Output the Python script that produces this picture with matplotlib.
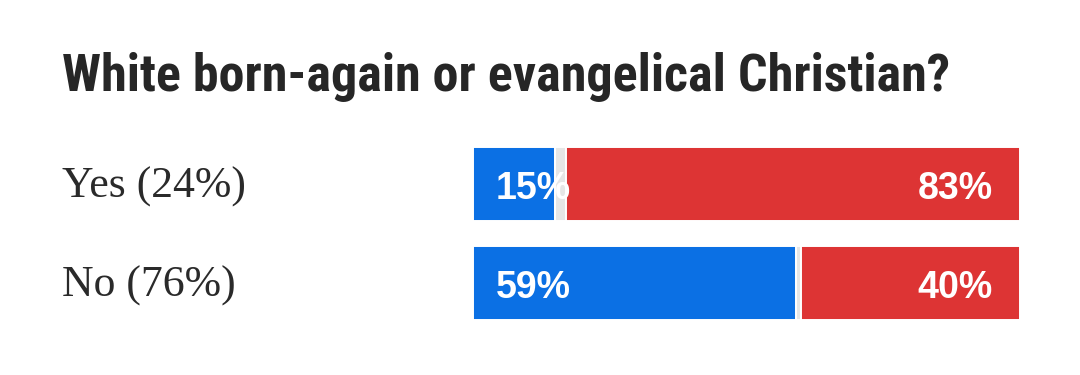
import matplotlib
matplotlib.use("Agg")
import matplotlib.pyplot as plt
from matplotlib.transforms import offset_copy

title = "White born-again or evangelical Christian?"
categories = ["Yes (24%)", "No (76%)"]
dem = [15, 59]
other = [2, 1]
rep = [83, 40]

BLUE = "#0B70E4"
RED = "#DD3434"
GRAY = "#E6E6E6"
TXT = "#262626"

W, H = 1080, 375
fig = plt.figure(figsize=(W / 100, H / 100), dpi=100)
fig.patch.set_facecolor("white")

ax = fig.add_axes([473 / W, (H - 320) / H, 547 / W, 173 / H])
pos = list(range(len(categories)))
bh = 74 / 99
ax.barh(pos, dem, height=bh, color=BLUE, edgecolor="white", linewidth=1.4)
ax.barh(pos, other, left=dem, height=bh, color=GRAY, edgecolor="white", linewidth=1.4)
left_rep = [d + o for d, o in zip(dem, other)]
ax.barh(pos, rep, left=left_rep, height=bh, color=RED, edgecolor="white", linewidth=1.4)
ax.set_xlim(0, 100)
pad = (173 - 99) / 198
ax.set_ylim(len(categories) - 1 + pad, -pad)
ax.axis("off")

val_font = dict(family=["Liberation Sans", "DejaVu Sans"], weight="bold", size=27, color="white")
for i in pos:
    tl = offset_copy(ax.transData, fig=fig, x=23, y=-15, units="dots")
    ax.text(0, i, f"{dem[i]}%", transform=tl, ha="left", va="baseline", **val_font)
    tr = offset_copy(ax.transData, fig=fig, x=-27, y=-15, units="dots")
    ax.text(100, i, f"{rep[i]}%", transform=tr, ha="right", va="baseline", **val_font)
    tc = offset_copy(ax.transData, fig=fig, x=62 - 473, y=-14, units="dots")
    ax.text(0, i, categories[i], transform=tc, ha="left", va="baseline",
            family=["Liberation Serif", "DejaVu Serif"], size=31.5, color="#2a2a2a")

fig.text(62 / W, (H - 91) / H, title, ha="left", va="baseline",
         family=["Roboto Condensed", "Liberation Sans Narrow", "Roboto", "DejaVu Sans"],
         weight="bold", size=37.5, color=TXT)

fig.savefig("out.png", dpi=100, facecolor="white")
